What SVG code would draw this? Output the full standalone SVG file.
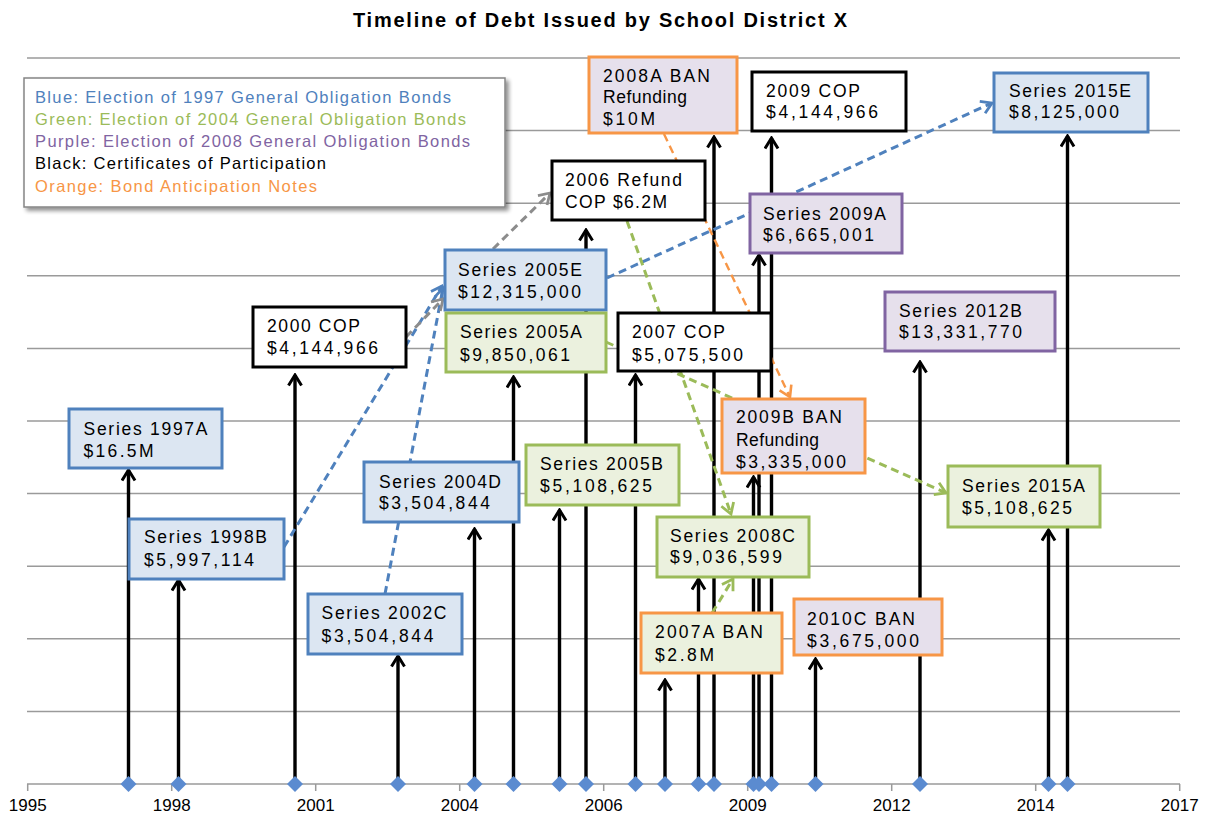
<svg xmlns="http://www.w3.org/2000/svg" width="1207" height="819" viewBox="0 0 1207 819">
<defs>
<style>
text{font-family:"Liberation Sans",Arial,Helvetica,sans-serif;}
.title{font-size:20px;font-weight:bold;fill:#000;}
.t{font-size:17.5px;fill:#000;}
.lg{font-size:16.5px;}
.ax{font-size:17px;fill:#000;text-anchor:middle;}
.grid{stroke:#9a9a9a;stroke-width:1.5;fill:none;}
.stem{stroke:#000;stroke-width:3.4;fill:none;marker-end:url(#mk);}
.bl{fill:#dce6f2;stroke:#4f81bd;stroke-width:3;}
.gr{fill:#ebf1de;stroke:#9bbb59;stroke-width:3;}
.pu{fill:#e6e0ec;stroke:#8064a2;stroke-width:3;}
.bk{fill:#ffffff;stroke:#000;stroke-width:3;}
.orp{fill:#e6e0ec;stroke:#f79646;stroke-width:3;}
.org{fill:#ebf1de;stroke:#f79646;stroke-width:3;}
.d{fill:none;stroke-width:3;stroke-dasharray:8 5;}
.db{stroke:#4f81bd;marker-end:url(#mb);}
.dg{stroke:#9bbb59;marker-end:url(#mg);}
.dgy{stroke:#8c8c8c;marker-end:url(#my);}
.dor{stroke:#f79646;stroke-width:2.4;marker-end:url(#mo);}
.dia{fill:#5b8bd0;}
</style>
<marker id="mk" viewBox="0 0 14 16" refX="12" refY="8" markerWidth="14" markerHeight="16" orient="auto" markerUnits="userSpaceOnUse"><path d="M1.5,1.5 L12,8 L1.5,14.5" fill="none" stroke="#000" stroke-width="3"/></marker>
<marker id="mb" viewBox="0 0 14 16" refX="12" refY="8" markerWidth="14" markerHeight="16" orient="auto" markerUnits="userSpaceOnUse"><path d="M1.5,1.5 L12,8 L1.5,14.5" fill="none" stroke="#4f81bd" stroke-width="2.8"/></marker>
<marker id="mg" viewBox="0 0 14 16" refX="12" refY="8" markerWidth="14" markerHeight="16" orient="auto" markerUnits="userSpaceOnUse"><path d="M1.5,1.5 L12,8 L1.5,14.5" fill="none" stroke="#9bbb59" stroke-width="2.8"/></marker>
<marker id="my" viewBox="0 0 14 16" refX="12" refY="8" markerWidth="14" markerHeight="16" orient="auto" markerUnits="userSpaceOnUse"><path d="M1.5,1.5 L12,8 L1.5,14.5" fill="none" stroke="#8c8c8c" stroke-width="2.8"/></marker>
<marker id="mo" viewBox="0 0 14 16" refX="12" refY="8" markerWidth="14" markerHeight="16" orient="auto" markerUnits="userSpaceOnUse"><path d="M1.5,1.5 L12,8 L1.5,14.5" fill="none" stroke="#f79646" stroke-width="2.6"/></marker>
<path id="dm" d="M0,-8 L8,0 L0,8 L-8,0 Z"/>
<filter id="sh" x="-5%" y="-5%" width="115%" height="125%"><feGaussianBlur in="SourceAlpha" stdDeviation="2"/><feOffset dx="3" dy="3" result="o"/><feComponentTransfer><feFuncA type="linear" slope="0.45"/></feComponentTransfer><feMerge><feMergeNode/><feMergeNode in="SourceGraphic"/></feMerge></filter>
</defs>
<rect x="0" y="0" width="1207" height="819" fill="#ffffff"/>
<text class="title" x="600" y="27" text-anchor="middle" textLength="494" lengthAdjust="spacing">Timeline of Debt Issued by School District X</text>
<g id="grid">
<path class="grid" d="M27,58H1180M27,130.6H1180M27,203.2H1180M27,275.8H1180M27,348.4H1180M27,421H1180M27,493.6H1180M27,566.2H1180M27,638.8H1180M27,711.4H1180"/>
<path class="grid" d="M27,784H1180M27.7,784V791M171.7,784V791M315.7,784V791M459.7,784V791M603.7,784V791M747.7,784V791M891.7,784V791M1035.7,784V791M1179.7,784V791"/>
<text class="ax" x="27.7" y="811">1995</text>
<text class="ax" x="171.7" y="811">1998</text>
<text class="ax" x="315.7" y="811">2001</text>
<text class="ax" x="459.7" y="811">2004</text>
<text class="ax" x="603.7" y="811">2006</text>
<text class="ax" x="747.7" y="811">2009</text>
<text class="ax" x="891.7" y="811">2012</text>
<text class="ax" x="1035.7" y="811">2014</text>
<text class="ax" x="1179.7" y="811">2017</text>
</g>
<g id="connectors">
<line class="stem" x1="128.5" y1="784" x2="128.5" y2="470"/>
<line class="stem" x1="178.5" y1="784" x2="178.5" y2="580"/>
<line class="stem" x1="295" y1="784" x2="295" y2="375"/>
<line class="stem" x1="398" y1="784" x2="398" y2="656"/>
<line class="stem" x1="474.5" y1="784" x2="474.5" y2="529"/>
<line class="stem" x1="513.5" y1="784" x2="513.5" y2="377"/>
<line class="stem" x1="559.5" y1="784" x2="559.5" y2="510"/>
<line class="stem" x1="586" y1="784" x2="586" y2="230"/>
<line class="stem" x1="635.5" y1="784" x2="635.5" y2="375"/>
<line class="stem" x1="665" y1="784" x2="665" y2="680"/>
<line class="stem" x1="698.5" y1="784" x2="698.5" y2="579"/>
<line class="stem" x1="714" y1="784" x2="714" y2="137"/>
<line class="stem" x1="753.5" y1="784" x2="753.5" y2="477"/>
<line class="stem" x1="759" y1="784" x2="759" y2="255"/>
<line class="stem" x1="771.5" y1="784" x2="771.5" y2="138"/>
<line class="stem" x1="815.5" y1="784" x2="815.5" y2="659"/>
<line class="stem" x1="920" y1="784" x2="920" y2="362"/>
<line class="stem" x1="1048.5" y1="784" x2="1048.5" y2="530"/>
<line class="stem" x1="1067.5" y1="784" x2="1067.5" y2="136"/>
<g class="dia">
<use href="#dm" x="128.5" y="784"/><use href="#dm" x="178.5" y="784"/><use href="#dm" x="295" y="784"/><use href="#dm" x="398" y="784"/><use href="#dm" x="474.5" y="784"/><use href="#dm" x="513.5" y="784"/><use href="#dm" x="559.5" y="784"/><use href="#dm" x="586" y="784"/><use href="#dm" x="635.5" y="784"/><use href="#dm" x="665" y="784"/><use href="#dm" x="698.5" y="784"/><use href="#dm" x="714" y="784"/><use href="#dm" x="753.5" y="784"/><use href="#dm" x="759" y="784"/><use href="#dm" x="771.5" y="784"/><use href="#dm" x="815.5" y="784"/><use href="#dm" x="920" y="784"/><use href="#dm" x="1048.5" y="784"/><use href="#dm" x="1067.5" y="784"/>
</g>
<line class="d db" x1="284" y1="547" x2="442" y2="286"/>
<line class="d db" x1="385" y1="594" x2="443" y2="288"/>
<line class="d dgy" x1="406" y1="337" x2="443" y2="299"/>
<line class="d dgy" x1="493" y1="249" x2="550" y2="193"/>
<line class="d db" x1="607" y1="278" x2="992" y2="103"/>
<line class="d dg" x1="627" y1="221" x2="731" y2="514"/>
<line class="d dg" x1="606" y1="342" x2="946" y2="493"/>
<line class="d dg" x1="712" y1="613" x2="733" y2="579"/>
<line class="d dor" x1="664" y1="134" x2="790" y2="397"/>
</g>
<g id="legend">
<rect x="24" y="78" width="481" height="129" fill="#fff" stroke="#858585" stroke-width="1.5" filter="url(#sh)"/>
<text class="lg" x="35" y="103" fill="#4f81bd" textLength="416" lengthAdjust="spacing">Blue: Election of 1997 General Obligation Bonds</text>
<text class="lg" x="35" y="125" fill="#9bbb59" textLength="431" lengthAdjust="spacing">Green: Election of 2004 General Obligation Bonds</text>
<text class="lg" x="35" y="147" fill="#8064a2" textLength="435" lengthAdjust="spacing">Purple: Election of 2008 General Obligation Bonds</text>
<text class="lg" x="35" y="169" fill="#000" textLength="291" lengthAdjust="spacing">Black: Certificates of Participation</text>
<text class="lg" x="35" y="192" fill="#f79646" textLength="282" lengthAdjust="spacing">Orange: Bond Anticipation Notes</text>
</g>
<g id="n1997A"><rect class="bl" x="69" y="409" width="153" height="59"/><text class="t" x="83.5" y="435" textLength="124" lengthAdjust="spacing">Series 1997A</text><text class="t" x="83.5" y="457" textLength="70" lengthAdjust="spacing">$16.5M</text></g>
<g id="n1998B"><rect class="bl" x="129" y="519" width="155" height="60"/><text class="t" x="144" y="543" textLength="123" lengthAdjust="spacing">Series 1998B</text><text class="t" x="144" y="566" textLength="110" lengthAdjust="spacing">$5,997,114</text></g>
<g id="n2000COP"><rect class="bk" x="253" y="307" width="153" height="60"/><text class="t" x="267" y="332" textLength="93" lengthAdjust="spacing">2000 COP</text><text class="t" x="267" y="354" textLength="111" lengthAdjust="spacing">$4,144,966</text></g>
<g id="n2002C"><rect class="bl" x="308" y="594" width="154" height="60"/><text class="t" x="321.5" y="619" textLength="125" lengthAdjust="spacing">Series 2002C</text><text class="t" x="321.5" y="642" textLength="112" lengthAdjust="spacing">$3,504,844</text></g>
<g id="n2004D"><rect class="bl" x="364" y="462" width="155" height="60"/><text class="t" x="379" y="488" textLength="122" lengthAdjust="spacing">Series 2004D</text><text class="t" x="379" y="509" textLength="111" lengthAdjust="spacing">$3,504,844</text></g>
<g id="n2005E"><rect class="bl" x="445" y="250" width="161" height="60"/><text class="t" x="458" y="276" textLength="124" lengthAdjust="spacing">Series 2005E</text><text class="t" x="458" y="298" textLength="123" lengthAdjust="spacing">$12,315,000</text></g>
<g id="n2005A"><rect class="gr" x="446" y="313" width="160" height="59"/><text class="t" x="460" y="338" textLength="122" lengthAdjust="spacing">Series 2005A</text><text class="t" x="460" y="361" textLength="110" lengthAdjust="spacing">$9,850,061</text></g>
<g id="n2005B"><rect class="gr" x="526" y="445" width="153" height="60"/><text class="t" x="540" y="470" textLength="123" lengthAdjust="spacing">Series 2005B</text><text class="t" x="540" y="492" textLength="112" lengthAdjust="spacing">$5,108,625</text></g>
<g id="n2006RefundCOP"><rect class="bk" x="552" y="161" width="153" height="59"/><text class="t" x="565" y="186" textLength="117" lengthAdjust="spacing">2006 Refund</text><text class="t" x="565" y="208" textLength="102" lengthAdjust="spacing">COP $6.2M</text></g>
<g id="n2007COP"><rect class="bk" x="618" y="313" width="153" height="58"/><text class="t" x="632" y="338" textLength="93" lengthAdjust="spacing">2007 COP</text><text class="t" x="632" y="361" textLength="111" lengthAdjust="spacing">$5,075,500</text></g>
<g id="n2007ABAN"><rect class="org" x="641" y="613" width="141" height="60"/><text class="t" x="655" y="638" textLength="108" lengthAdjust="spacing">2007A BAN</text><text class="t" x="655" y="661" textLength="59" lengthAdjust="spacing">$2.8M</text></g>
<g id="n2008ABAN"><rect class="orp" x="589" y="57" width="148" height="76"/><text class="t" x="603" y="82" textLength="107" lengthAdjust="spacing">2008A BAN</text><text class="t" x="603" y="103" textLength="84" lengthAdjust="spacing">Refunding</text><text class="t" x="603" y="125" textLength="52" lengthAdjust="spacing">$10M</text></g>
<g id="n2008C"><rect class="gr" x="657" y="517" width="152" height="60"/><text class="t" x="670" y="542" textLength="125" lengthAdjust="spacing">Series 2008C</text><text class="t" x="670" y="563" textLength="112" lengthAdjust="spacing">$9,036,599</text></g>
<g id="n2009A"><rect class="pu" x="750" y="194" width="152" height="59"/><text class="t" x="763" y="220" textLength="123" lengthAdjust="spacing">Series 2009A</text><text class="t" x="763" y="241" textLength="111" lengthAdjust="spacing">$6,665,001</text></g>
<g id="n2009BBAN"><rect class="orp" x="722" y="399" width="143" height="74"/><text class="t" x="736" y="423" textLength="106" lengthAdjust="spacing">2009B BAN</text><text class="t" x="736" y="446" textLength="83" lengthAdjust="spacing">Refunding</text><text class="t" x="736" y="468" textLength="110" lengthAdjust="spacing">$3,335,000</text></g>
<g id="n2009COP"><rect class="bk" x="752" y="72" width="154" height="59"/><text class="t" x="766" y="97" textLength="94" lengthAdjust="spacing">2009 COP</text><text class="t" x="766" y="118" textLength="112" lengthAdjust="spacing">$4,144,966</text></g>
<g id="n2010CBAN"><rect class="orp" x="794" y="599" width="148" height="56"/><text class="t" x="807" y="625" textLength="108" lengthAdjust="spacing">2010C BAN</text><text class="t" x="807" y="647" textLength="112" lengthAdjust="spacing">$3,675,000</text></g>
<g id="n2012B"><rect class="pu" x="885" y="292" width="170" height="59"/><text class="t" x="899" y="317" textLength="123" lengthAdjust="spacing">Series 2012B</text><text class="t" x="899" y="338" textLength="123" lengthAdjust="spacing">$13,331,770</text></g>
<g id="n2015A"><rect class="gr" x="948" y="466" width="152" height="61"/><text class="t" x="962" y="492" textLength="123" lengthAdjust="spacing">Series 2015A</text><text class="t" x="962" y="514" textLength="110" lengthAdjust="spacing">$5,108,625</text></g>
<g id="n2015E"><rect class="bl" x="994" y="73" width="154" height="59"/><text class="t" x="1009" y="97" textLength="122" lengthAdjust="spacing">Series 2015E</text><text class="t" x="1009" y="118" textLength="110" lengthAdjust="spacing">$8,125,000</text></g>
</svg>
